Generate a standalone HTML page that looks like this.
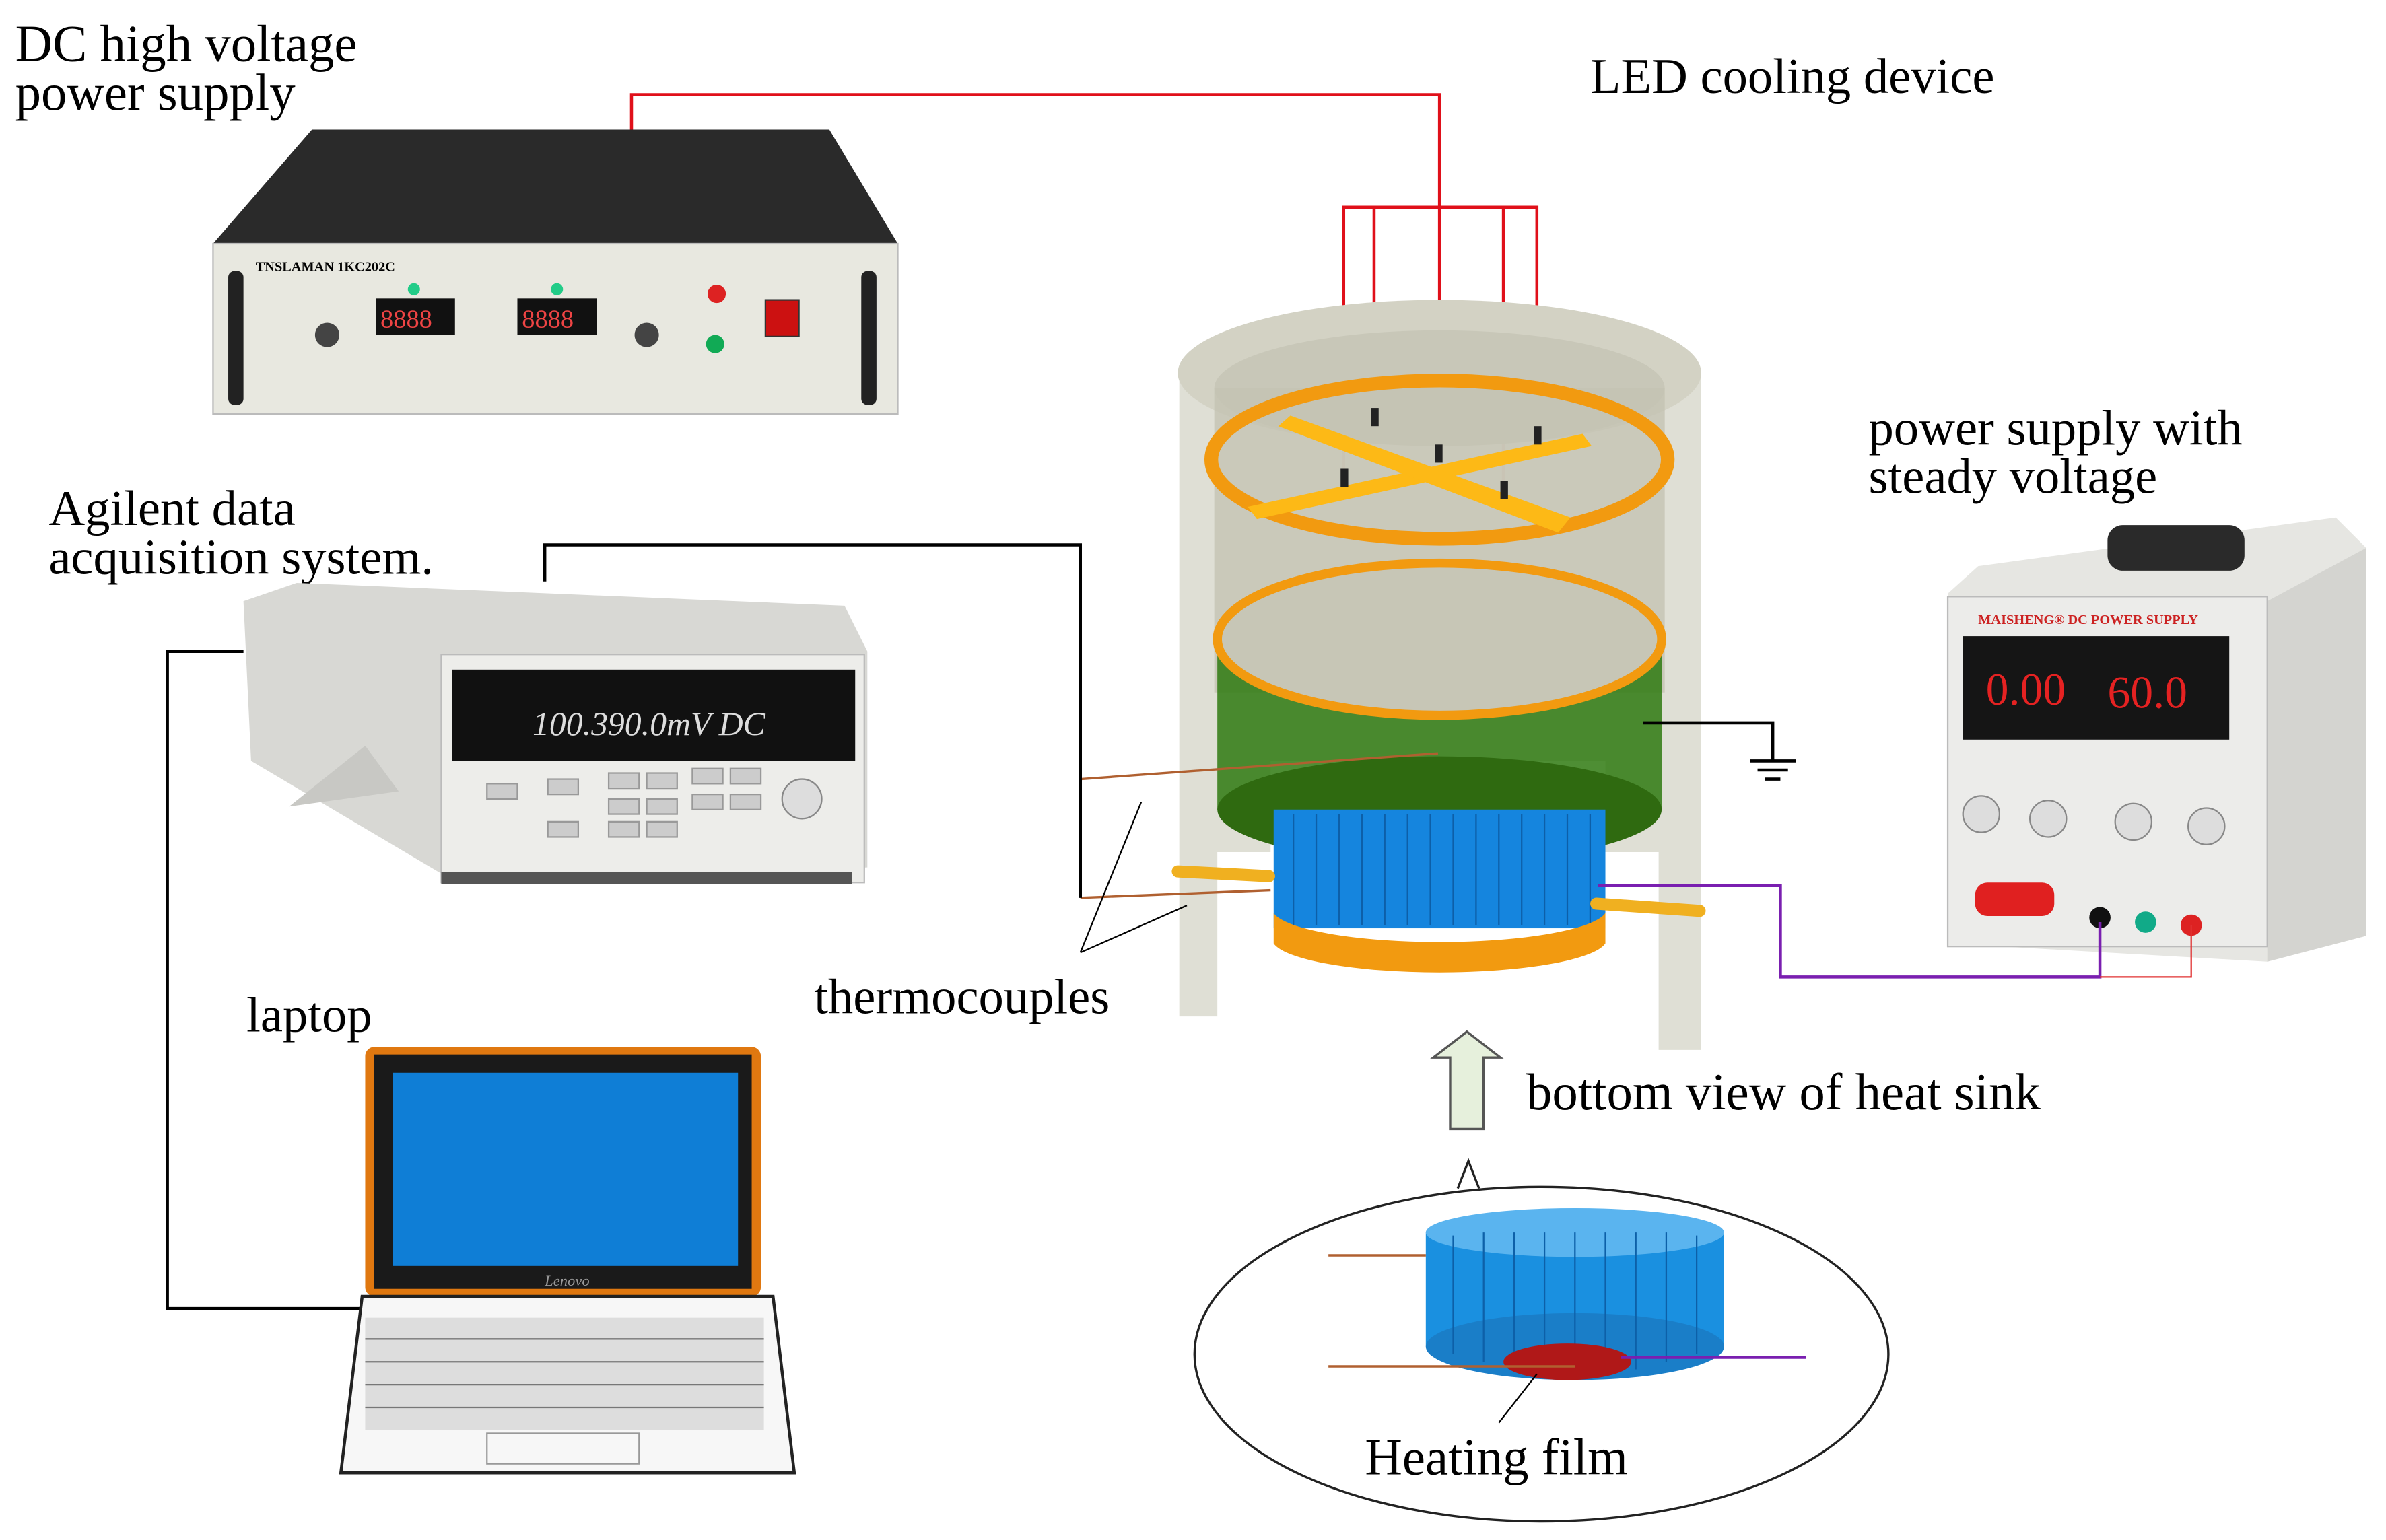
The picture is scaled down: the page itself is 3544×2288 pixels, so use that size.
<!DOCTYPE html>
<html><head><meta charset="utf-8"><style>
html,body{margin:0;padding:0;background:#fff;width:3544px;height:2288px;overflow:hidden}
svg{display:block}
text{font-family:"Liberation Serif",serif;fill:#000}
</style></head><body>
<svg width="3544" height="2288" viewBox="0 0 1568 1012" xmlns="http://www.w3.org/2000/svg">
<!-- labels -->
<text x="10" y="40" font-size="34">DC high voltage</text>
<text x="10" y="72" font-size="34">power supply</text>
<text x="1045" y="61" font-size="33">LED cooling device</text>
<text x="32" y="345" font-size="33">Agilent data</text>
<text x="32" y="377" font-size="33">acquisition system.</text>
<text x="1228" y="292" font-size="33">power supply with</text>
<text x="1228" y="324" font-size="33">steady voltage</text>
<text x="162" y="678" font-size="33">laptop</text>
<text x="535" y="666" font-size="33">thermocouples</text>
<text x="1003" y="729" font-size="34">bottom view of heat sink</text>

<!-- DC HV supply -->
<polygon points="205,85 545,85 590,160 140,160" fill="#2a2a2a"/>
<rect x="140" y="160" width="450" height="112" fill="#e8e8e0" stroke="#bbb"/>
<rect x="150" y="178" width="10" height="88" rx="4" fill="#222"/>
<rect x="566" y="178" width="10" height="88" rx="4" fill="#222"/>
<text x="168" y="178" font-size="9" font-family="Liberation Sans" font-weight="bold">TNSLAMAN  1KC202C</text>
<rect x="247" y="196" width="52" height="24" fill="#111"/><text x="250" y="215" font-size="17" style="fill:#e44" font-family="Liberation Mono">8888</text>
<rect x="340" y="196" width="52" height="24" fill="#111"/><text x="343" y="215" font-size="17" style="fill:#e44" font-family="Liberation Mono">8888</text>
<circle cx="272" cy="190" r="4" fill="#2c8"/><circle cx="366" cy="190" r="4" fill="#2c8"/>
<circle cx="215" cy="220" r="8" fill="#444"/><circle cx="425" cy="220" r="8" fill="#444"/>
<circle cx="471" cy="193" r="6" fill="#d22"/><circle cx="470" cy="226" r="6" fill="#1a5"/>
<rect x="503" y="197" width="22" height="24" fill="#c11" stroke="#333"/>

<!-- red wires -->
<g stroke="#e0101a" stroke-width="2" fill="none">
<polyline points="415,85 415,62 946,62 946,300"/>
<polyline points="883,318 883,136 1010,136 1010,282"/>
<line x1="903" y1="136" x2="903" y2="276"/>
<line x1="988" y1="136" x2="988" y2="322"/>
</g>

<!-- cooling device housing -->
<path d="M775,245 L775,668 L800,668 L800,560 L835,560 L835,500 L1055,500 L1055,560 L1090,560 L1090,690 L1118,690 L1118,245 Z" fill="#dcdbd0" opacity="0.9"/>
<ellipse cx="946" cy="245" rx="172" ry="48" fill="#d3d2c4"/>
<ellipse cx="946" cy="255" rx="148" ry="38" fill="#c8c7b8"/>
<rect x="798" y="255" width="296" height="200" fill="#c4c3b3" opacity="0.8"/>
<!-- orange ring -->
<ellipse cx="946" cy="302" rx="150" ry="52" fill="none" stroke="#f29a10" stroke-width="9"/>
<polygon points="820,333 1040,285 1046,293 826,341" fill="#fdb916"/>
<polygon points="848,273 1032,340 1024,350 840,280" fill="#fdb916"/>
<g fill="#222"><rect x="881" y="308" width="5" height="12"/><rect x="901" y="268" width="5" height="12"/><rect x="943" y="292" width="5" height="12"/><rect x="986" y="316" width="5" height="12"/><rect x="1008" y="280" width="5" height="12"/></g>
<!-- green ring -->
<rect x="800" y="420" width="292" height="112" fill="#2f7a10" opacity="0.85"/>
<ellipse cx="946" cy="420" rx="146" ry="50" fill="#c7c6b6" stroke="#f29a10" stroke-width="6"/>
<ellipse cx="946" cy="532" rx="146" ry="35" fill="#2f6a10"/>
<!-- heat sink -->
<rect x="837" y="532" width="218" height="78" fill="#1585de"/>
<g stroke="#0d5fa8" stroke-width="1">
<line x1="850" y1="535" x2="850" y2="608"/><line x1="865" y1="535" x2="865" y2="608"/><line x1="880" y1="535" x2="880" y2="608"/><line x1="895" y1="535" x2="895" y2="608"/><line x1="910" y1="535" x2="910" y2="608"/><line x1="925" y1="535" x2="925" y2="608"/><line x1="940" y1="535" x2="940" y2="608"/><line x1="955" y1="535" x2="955" y2="608"/><line x1="970" y1="535" x2="970" y2="608"/><line x1="985" y1="535" x2="985" y2="608"/><line x1="1000" y1="535" x2="1000" y2="608"/><line x1="1015" y1="535" x2="1015" y2="608"/><line x1="1030" y1="535" x2="1030" y2="608"/><line x1="1045" y1="535" x2="1045" y2="608"/></g>
<path d="M837,600 L837,620 A110,22 0 0 0 1055,620 L1055,600 A110,22 0 0 1 837,600 Z" fill="#f29a10"/>
<rect x="770" y="570" width="68" height="8" rx="4" fill="#f0b020" transform="rotate(3 800 574)"/>
<rect x="1045" y="592" width="76" height="8" rx="4" fill="#f0b020" transform="rotate(4 1080 596)"/>
<!-- thermocouple wires -->
<g stroke="#b06030" stroke-width="1.5"><line x1="710" y1="512" x2="945" y2="495"/><line x1="710" y1="590" x2="835" y2="585"/></g>
<g stroke="#000" stroke-width="1"><line x1="710" y1="626" x2="750" y2="527"/><line x1="710" y1="626" x2="780" y2="595"/></g>
<!-- ground -->
<g stroke="#000" stroke-width="2" fill="none"><polyline points="1080,475 1165,475 1165,500"/><line x1="1150" y1="500" x2="1180" y2="500"/><line x1="1155" y1="506" x2="1175" y2="506"/><line x1="1160" y1="512" x2="1170" y2="512"/></g>

<!-- Agilent -->
<polygon points="160,395 195,383 555,398 570,428 570,570 300,580 165,500" fill="#d8d8d4"/>
<rect x="290" y="430" width="278" height="150" fill="#ededea" stroke="#bbb"/>
<rect x="297" y="440" width="265" height="60" fill="#111"/>
<text x="350" y="483" font-size="22" style="fill:#ddd" font-family="Liberation Mono" font-style="italic">100.390.0mV DC</text>
<g fill="#ccc" stroke="#999"><rect x="320" y="515" width="20" height="10"/><rect x="360" y="512" width="20" height="10"/><rect x="400" y="508" width="20" height="10"/><rect x="425" y="508" width="20" height="10"/><rect x="455" y="505" width="20" height="10"/><rect x="480" y="505" width="20" height="10"/><rect x="400" y="525" width="20" height="10"/><rect x="425" y="525" width="20" height="10"/><rect x="455" y="522" width="20" height="10"/><rect x="480" y="522" width="20" height="10"/><rect x="360" y="540" width="20" height="10"/><rect x="400" y="540" width="20" height="10"/><rect x="425" y="540" width="20" height="10"/></g>
<circle cx="527" cy="525" r="13" fill="#ddd" stroke="#888"/>
<polygon points="190,530 240,490 262,520" fill="#c8c8c4"/>
<rect x="290" y="573" width="270" height="8" fill="#555"/>

<!-- black cables -->
<g stroke="#000" stroke-width="2" fill="none">
<polyline points="358,382 358,358 710,358 710,590"/>
<polyline points="160,428 110,428 110,860 240,860"/>
</g>

<!-- laptop -->
<rect x="240" y="688" width="260" height="164" rx="6" fill="#e07810"/>
<rect x="246" y="693" width="248" height="154" fill="#1a1a1a"/>
<rect x="258" y="705" width="227" height="127" fill="#0f7ed6"/>
<text x="358" y="845" font-size="10" style="fill:#999" font-style="italic">Lenovo</text>
<polygon points="238,852 508,852 522,968 224,968" fill="#f7f7f7" stroke="#222" stroke-width="2"/>
<rect x="240" y="866" width="262" height="74" fill="#ddd"/>
<g stroke="#777" stroke-width="1">
<line x1="240" y1="880" x2="502" y2="880"/><line x1="240" y1="895" x2="502" y2="895"/><line x1="240" y1="910" x2="502" y2="910"/><line x1="240" y1="925" x2="502" y2="925"/></g>
<rect x="320" y="942" width="100" height="20" fill="none" stroke="#999"/>

<!-- right power supply -->
<polygon points="1280,390 1300,372 1535,340 1555,360 1555,615 1490,632 1280,620" fill="#e6e6e2"/>
<polygon points="1490,395 1555,360 1555,615 1490,632" fill="#d4d4d0"/>
<rect x="1385" y="345" width="90" height="30" rx="10" fill="#2a2a2a"/>
<rect x="1280" y="392" width="210" height="230" fill="#ececea" stroke="#bbb"/>
<text x="1300" y="410" font-size="9" font-family="Liberation Sans" font-weight="bold" style="fill:#c22">MAISHENG® DC POWER SUPPLY</text>
<rect x="1290" y="418" width="175" height="68" fill="#151515"/>
<text x="1305" y="463" font-size="30" style="fill:#e52222" font-family="Liberation Sans">0.00</text>
<text x="1385" y="465" font-size="30" style="fill:#e52222" font-family="Liberation Sans">60.0</text>
<g fill="#ddd" stroke="#888"><circle cx="1302" cy="535" r="12"/><circle cx="1346" cy="538" r="12"/><circle cx="1402" cy="540" r="12"/><circle cx="1450" cy="543" r="12"/></g>
<rect x="1298" y="580" width="52" height="22" rx="8" fill="#e02020"/>
<circle cx="1380" cy="603" r="7" fill="#111"/><circle cx="1410" cy="606" r="7" fill="#1a8"/><circle cx="1440" cy="608" r="7" fill="#d22"/>
<polyline points="1050,582 1170,582 1170,642 1380,642 1380,606" stroke="#7a1fb0" stroke-width="2" fill="none"/>
<polyline points="1380,642 1440,642 1440,608" stroke="#e03030" stroke-width="1" fill="none"/>

<!-- arrow -->
<polygon points="953,742 975,742 975,695 986,695 964,678 942,695 953,695" fill="#e6f0dc" stroke="#555" stroke-width="1.5"/>

<!-- bubble -->
<ellipse cx="1013" cy="890" rx="228" ry="110" fill="#fff" stroke="#222" stroke-width="1.5"/>
<polyline points="958,781 965,763 972,781" fill="#fff" stroke="#222" stroke-width="1.5"/>
<rect x="937" y="810" width="196" height="75" fill="#1a90e0"/>
<ellipse cx="1035" cy="810" rx="98" ry="16" fill="#5ab4ef"/>
<ellipse cx="1035" cy="885" rx="98" ry="22" fill="#1a7ec8"/>
<g stroke="#0d60a8" stroke-width="1"><line x1="955" y1="812" x2="955" y2="890"/><line x1="975" y1="810" x2="975" y2="895"/><line x1="995" y1="810" x2="995" y2="900"/><line x1="1015" y1="810" x2="1015" y2="902"/><line x1="1035" y1="810" x2="1035" y2="905"/><line x1="1055" y1="810" x2="1055" y2="902"/><line x1="1075" y1="810" x2="1075" y2="900"/><line x1="1095" y1="810" x2="1095" y2="895"/><line x1="1115" y1="812" x2="1115" y2="890"/></g>
<ellipse cx="1030" cy="895" rx="42" ry="12" fill="#b01818"/>
<g stroke="#b06030" stroke-width="1.5"><line x1="873" y1="825" x2="937" y2="825"/><line x1="873" y1="898" x2="1035" y2="898"/></g>
<line x1="1065" y1="892" x2="1187" y2="892" stroke="#7a1fb0" stroke-width="2"/>
<line x1="985" y1="935" x2="1010" y2="903" stroke="#000" stroke-width="1"/>
<text x="897" y="969" font-size="34">Heating film</text>
</svg>
</body></html>
